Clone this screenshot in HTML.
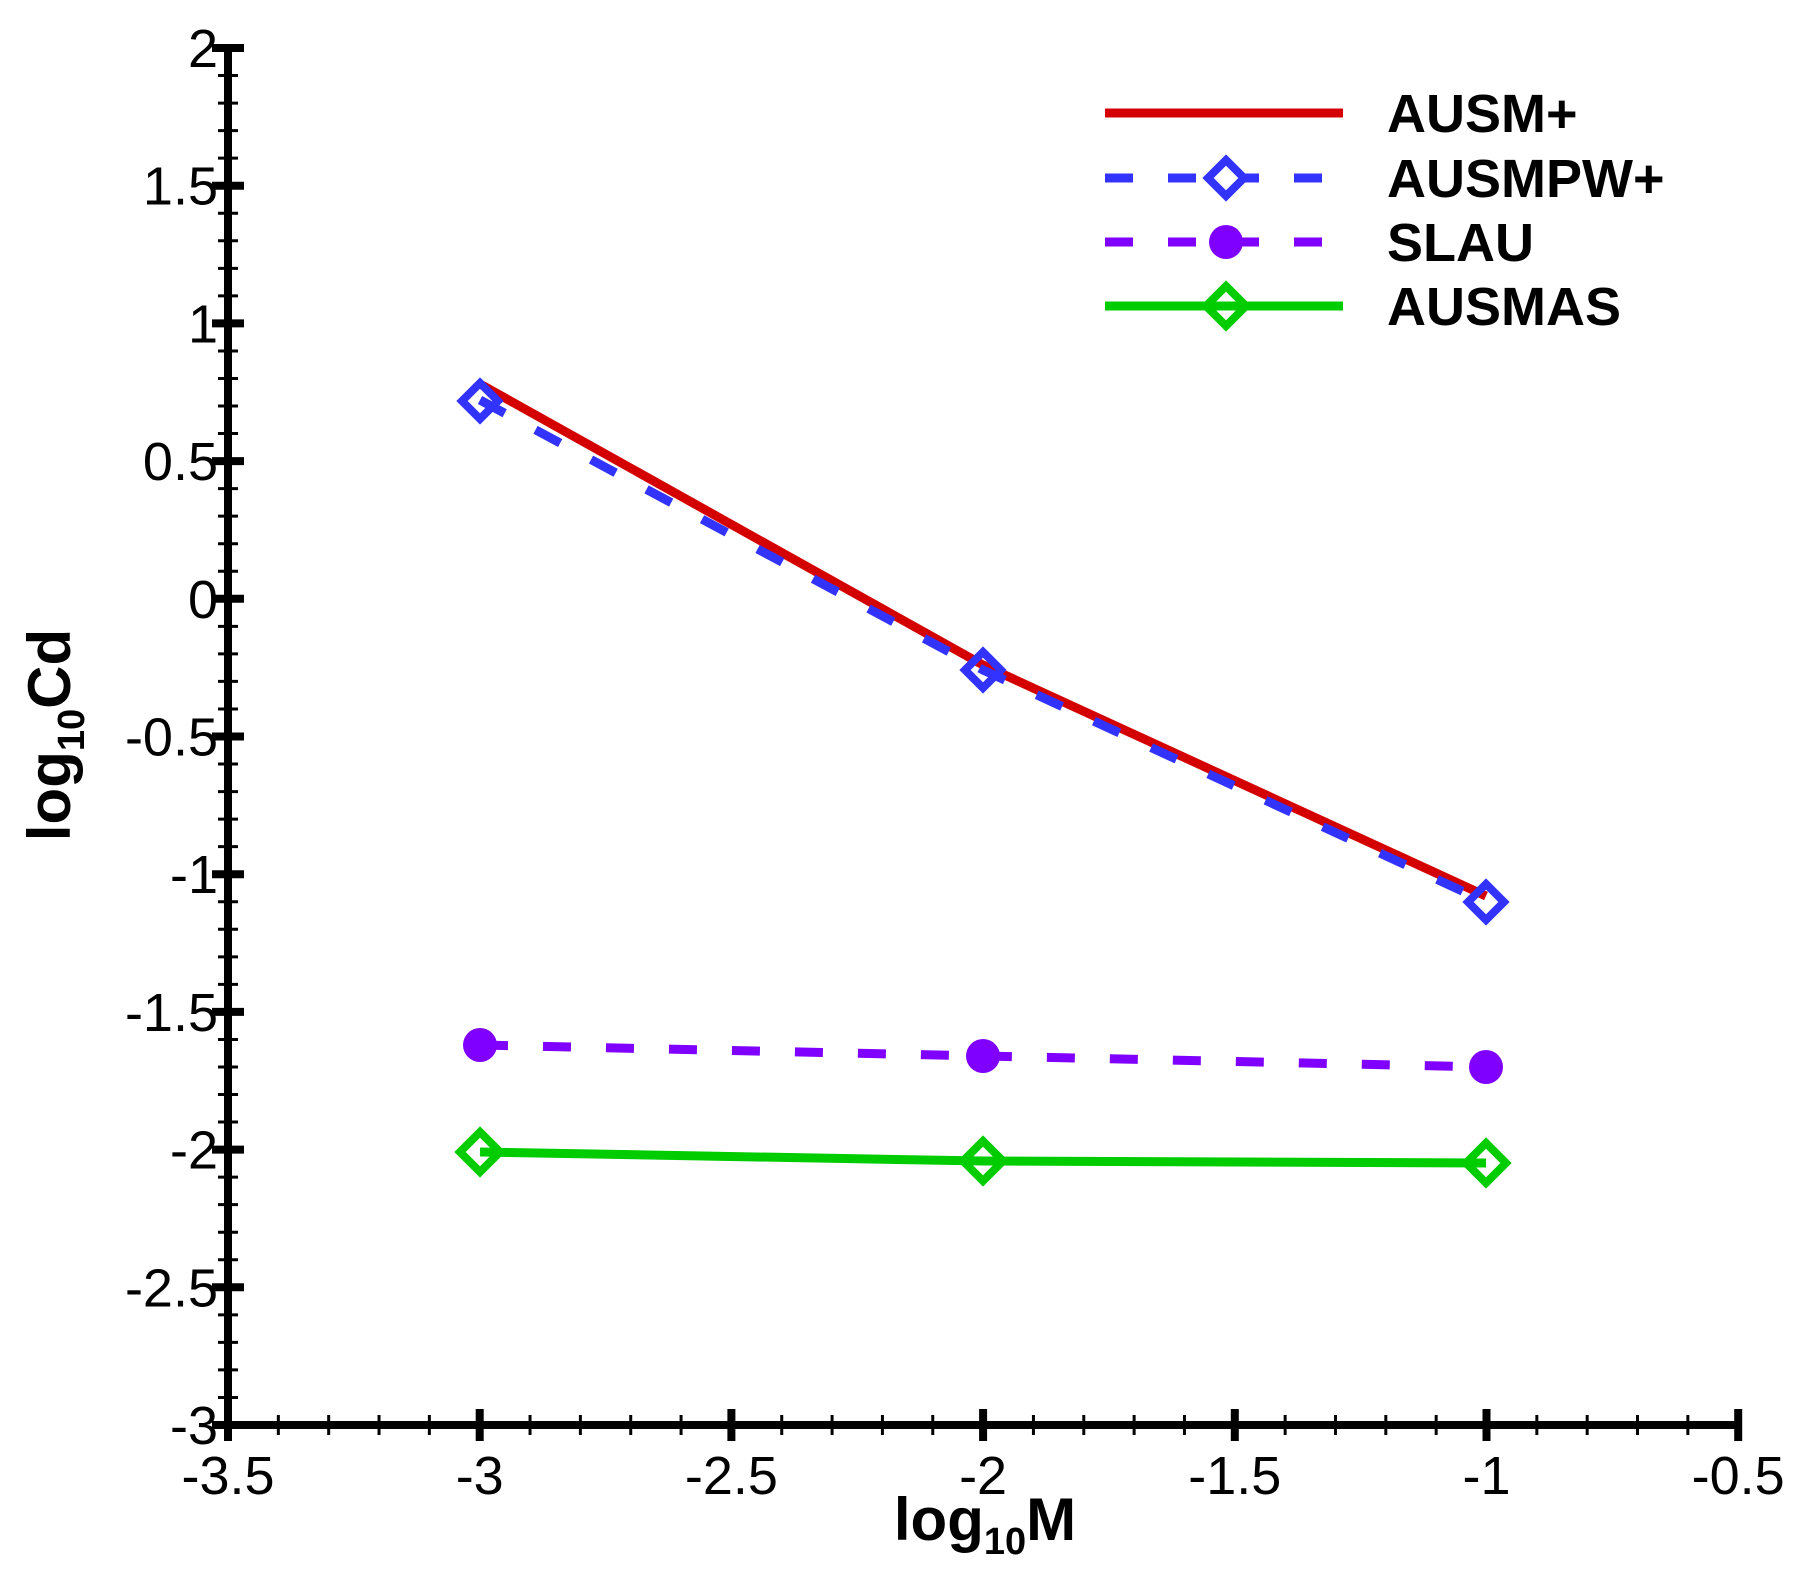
<!DOCTYPE html>
<html><head><meta charset="utf-8"><style>html,body{margin:0;padding:0;background:#fff}svg{display:block}</style></head>
<body>
<svg width="1796" height="1573" viewBox="0 0 1796 1573" xmlns="http://www.w3.org/2000/svg" font-family="Liberation Sans, sans-serif">
<rect width="1796" height="1573" fill="#fff"/>
<g stroke="#000">
<line x1="228" y1="44" x2="228" y2="1429" stroke-width="8"/>
<line x1="224" y1="1425" x2="1740" y2="1425" stroke-width="8"/>
</g>
<g id="yt" stroke="#000"></g>
<g id="xt" stroke="#000"></g>
<g id="lab" font-size="54" fill="#000"></g>
<text x="985" y="1540" font-size="60" font-weight="bold" text-anchor="middle">log<tspan font-size="38" dy="14">10</tspan><tspan dy="-14">M</tspan></text>
<text transform="translate(70,735) rotate(-90)" font-size="60" font-weight="bold" text-anchor="middle">log<tspan font-size="38" dy="14">10</tspan><tspan dy="-14">Cd</tspan></text>
<!-- series -->
<polyline points="480,384 983,665 1486,896" fill="none" stroke="#d40000" stroke-width="9"/>
<polyline points="480,400 983,670 1486,902" fill="none" stroke="#3333ff" stroke-width="9" stroke-dasharray="28,35"/>
<polyline points="480,1045 983,1056 1486,1067" fill="none" stroke="#7f00ff" stroke-width="9" stroke-dasharray="28,35"/>
<polyline points="480,1152 983,1161 1486,1163" fill="none" stroke="#00cc00" stroke-width="9"/>
<g fill="none" stroke="#3333ff" stroke-width="8">
<path d="M480,383 l18,18 l-18,18 l-18,-18z"/><path d="M983,652 l18,18 l-18,18 l-18,-18z"/><path d="M1486,884 l18,18 l-18,18 l-18,-18z"/>
</g>
<g fill="#7f00ff"><circle cx="480" cy="1045" r="17"/><circle cx="983" cy="1056" r="17"/><circle cx="1486" cy="1067" r="17"/></g>
<g fill="none" stroke="#00cc00" stroke-width="8">
<path d="M480,1132 l20,20 l-20,20 l-20,-20z"/><path d="M983,1141 l20,20 l-20,20 l-20,-20z"/><path d="M1486,1143 l20,20 l-20,20 l-20,-20z"/>
</g>
<!-- legend -->
<line x1="1105" y1="113" x2="1343" y2="113" stroke="#d40000" stroke-width="9"/>
<line x1="1105" y1="178" x2="1343" y2="178" stroke="#3333ff" stroke-width="9" stroke-dasharray="28,35"/>
<path d="M1226,160 l18,18 l-18,18 l-18,-18z" fill="#fff" stroke="#3333ff" stroke-width="8"/>
<line x1="1105" y1="242" x2="1343" y2="242" stroke="#7f00ff" stroke-width="9" stroke-dasharray="28,35"/>
<circle cx="1226" cy="242" r="17" fill="#7f00ff"/>
<line x1="1105" y1="306" x2="1343" y2="306" stroke="#00cc00" stroke-width="9"/>
<path d="M1226,286 l20,20 l-20,20 l-20,-20z" fill="none" stroke="#00cc00" stroke-width="8"/>
<g font-size="54" font-weight="bold" fill="#000">
<text x="1387" y="132">AUSM+</text><text x="1387" y="197">AUSMPW+</text><text x="1387" y="261">SLAU</text><text x="1387" y="325">AUSMAS</text>
</g>
<script>
var ns="http://www.w3.org/2000/svg";
function el(p,t,a,txt){var e=document.createElementNS(ns,t);for(var k in a)e.setAttribute(k,a[k]);if(txt!==undefined)e.textContent=txt;p.appendChild(e);}
var yt=document.getElementById('yt'),xt=document.getElementById('xt'),lab=document.getElementById('lab');
for(var i=0;i<=50;i++){var y=48+i*27.54;var maj=i%5==0;
 el(yt,'line',{x1:maj?212:218,x2:maj?244:238,y1:y,y2:y,'stroke-width':maj?8:3});
 if(maj){var v=2-i/10;el(lab,'text',{x:218,y:y+19,'text-anchor':'end'},(Math.round(v*10)/10).toString());}}
for(var j=0;j<=30;j++){var x=228+j*50.34;var maj=j%5==0;
 el(xt,'line',{x1:x,x2:x,y1:maj?1409:1415,y2:maj?1441:1435,'stroke-width':maj?8:3});
 if(maj){var v=-3.5+j/10;el(lab,'text',{x:x,y:1494,'text-anchor':'middle'},(Math.round(v*10)/10).toString());}}
</script>
</svg>
</body></html>
